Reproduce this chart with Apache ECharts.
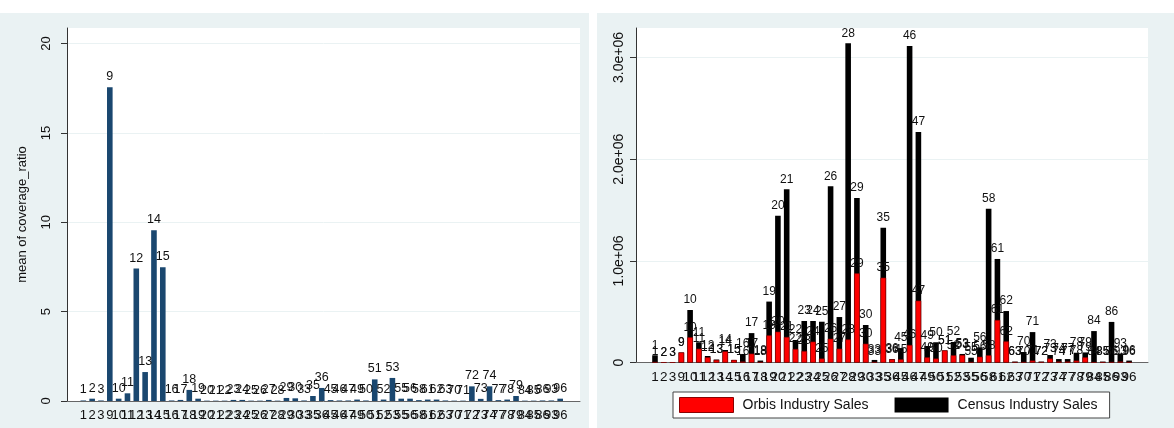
<!DOCTYPE html>
<html>
<head>
<meta charset="utf-8">
<script src="https://cdn.jsdelivr.net/npm/echarts@6/dist/echarts.min.js"></script>
<style>
  html, body { margin: 0; padding: 0; background: #ffffff; }
  #chart { width: 1174px; height: 428px; }
</style>
</head>
<body>
<div id="chart"></div>
<script>
// Industry codes shown on both panels
const industries = [1, 2, 3, 9, 10, 11, 12, 13, 14, 15, 16, 17, 18, 19, 20, 21, 22, 23, 24, 25,
  26, 27, 28, 29, 30, 33, 35, 36, 45, 46, 47, 49, 50, 51, 52, 53, 55, 56, 58, 61,
  62, 63, 70, 71, 72, 73, 74, 77, 78, 79, 84, 85, 86, 93, 96];

// Left panel: mean of coverage_ratio per industry
const coverageRatio = [0.03, 0.13, 0.03, 17.55, 0.13, 0.43, 7.41, 1.62, 9.56, 7.49,
  0.03, 0.06, 0.62, 0.13, 0.02, 0.02, 0.02, 0.06, 0.06, 0.02,
  0.02, 0.06, 0.02, 0.17, 0.15, 0.03, 0.28, 0.73, 0.05, 0.03,
  0.03, 0.08, 0.03, 1.21, 0.08, 1.29, 0.13, 0.13, 0.05, 0.08,
  0.08, 0.03, 0.02, 0.02, 0.82, 0.12, 0.82, 0.05, 0.08, 0.28,
  0.02, 0.02, 0.03, 0.03, 0.13];

// Right panel: industry sales totals
const orbisSales = [5000, 2000, 2000, 100000, 249000, 137000, 52000, 26000, 111000, 26000,
  10000, 88000, 5000, 268000, 304000, 252000, 134000, 114000, 206000, 40000,
  235000, 137000, 228000, 878000, 186000, 5000, 835000, 32000, 32000, 173000,
  609000, 52000, 40000, 120000, 72000, 75000, 5000, 58000, 72000, 419000,
  209000, 5000, 5000, 20000, 5000, 40000, 10000, 10000, 20000, 52000,
  3000, 3000, 5000, 10000, 5000];
const censusSales = [72000, 3000, 3000, 100000, 517000, 200000, 65000, 30000, 124000, 26000,
  85000, 290000, 20000, 600000, 1445000, 1704000, 222000, 409000, 409000, 402000,
  1733000, 448000, 3140000, 1618000, 370000, 26000, 1326000, 35000, 143000, 3113000,
  2267000, 163000, 200000, 120000, 203000, 85000, 48000, 150000, 1513000, 1019000,
  507000, 10000, 104000, 300000, 10000, 75000, 35000, 35000, 97000, 100000,
  310000, 10000, 400000, 90000, 20000];

// Axis tick values
const coverageTicks = [0, 5, 10, 15, 20];
const salesTicks = [0, 1000000, 2000000, 3000000];

const FONT = "'Liberation Sans', Arial, sans-serif";
const BG = '#EAF2F3';
const NAVY = '#1A476F';

const chart = echarts.init(document.getElementById('chart'), null, { renderer: 'canvas' });

const fmtSales = v => v === 0 ? '0' : (v / 1e6).toFixed(1) + 'e+06';

// Plot frame: white region with a baseline, no labels
const frameX = (gridIndex) => ({
  type: 'value', gridIndex, min: 0, max: 1,
  axisLine: { show: true, lineStyle: { color: '#666666', width: 1 } },
  axisTick: { show: false }, axisLabel: { show: false }, splitLine: { show: false }
});
// Category axis carrying the bars and the industry code labels
const barsX = (gridIndex, fontSize) => ({
  type: 'category', gridIndex, data: industries.map(String),
  axisLine: { show: false }, axisTick: { show: false }, splitLine: { show: false },
  axisLabel: { interval: 0, fontFamily: FONT, fontSize, color: '#111', margin: 8 }
});

const option = {
  animation: false,
  backgroundColor: '#ffffff',
  graphic: [
    { type: 'rect', z: -10, silent: true, shape: { x: 0, y: 13, width: 589, height: 415 }, style: { fill: BG } },
    { type: 'rect', z: -10, silent: true, shape: { x: 597, y: 13, width: 577, height: 415 }, style: { fill: BG } }
  ],
  grid: [
    { left: 67, top: 28, width: 513, height: 373, show: true, backgroundColor: '#ffffff', borderWidth: 0 },
    { left: 78.9, top: 28, width: 485.7, height: 373 },
    { left: 636, top: 28, width: 512, height: 334.6, show: true, backgroundColor: '#ffffff', borderWidth: 0 },
    { left: 650.6, top: 28, width: 482.9, height: 334.6 }
  ],
  legend: {
    data: [
      { name: 'Orbis Industry Sales', icon: 'rect', itemStyle: { color: '#FF0000', borderColor: '#8B0000', borderWidth: 1 } },
      { name: 'Census Industry Sales', icon: 'rect', itemStyle: { color: '#000000', borderWidth: 0 } }
    ],
    left: 673, top: 392,
    orient: 'horizontal',
    backgroundColor: '#ffffff', borderColor: '#444444', borderWidth: 1, borderRadius: 0,
    padding: [5, 12, 5, 6],
    itemWidth: 54, itemHeight: 15, itemGap: 26,
    textStyle: { fontFamily: FONT, fontSize: 14, color: '#111', padding: [0, 0, 0, 4] }
  },
  xAxis: [frameX(0), barsX(1, 13), frameX(2), barsX(3, 13.5)],
  yAxis: [
    {
      type: 'value', gridIndex: 0, min: 0, max: 20.87, interval: 5,
      name: 'mean of coverage_ratio', nameLocation: 'middle', nameGap: 38, nameRotate: 90,
      nameTextStyle: { fontFamily: FONT, fontSize: 13, color: '#111' },
      axisLine: { show: true, lineStyle: { color: '#333', width: 1 } },
      axisTick: { show: true, length: 6, customValues: coverageTicks, lineStyle: { color: '#333' } },
      axisLabel: { customValues: coverageTicks, rotate: 90, margin: 14, fontFamily: FONT, fontSize: 13, color: '#111' },
      splitLine: { show: true, lineStyle: { color: BG, width: 1 } }
    },
    { type: 'value', gridIndex: 1, min: 0, max: 20.87, show: false, splitLine: { show: false } },
    {
      type: 'value', gridIndex: 2, min: 0, max: 3290000, interval: 1000000,
      axisLine: { show: true, lineStyle: { color: '#333', width: 1 } },
      axisTick: { show: true, length: 6, customValues: salesTicks, lineStyle: { color: '#333' } },
      axisLabel: { customValues: salesTicks, rotate: 90, margin: 10, fontFamily: FONT, fontSize: 14, color: '#111', formatter: fmtSales },
      splitLine: { show: true, lineStyle: { color: BG, width: 1 } }
    },
    { type: 'value', gridIndex: 3, min: 0, max: 3290000, show: false, splitLine: { show: false } }
  ],
  series: [
    {
      name: 'coverage_ratio', type: 'bar', xAxisIndex: 1, yAxisIndex: 1,
      data: coverageRatio, barWidth: 5.6,
      itemStyle: { color: NAVY },
      label: { show: true, position: 'top', distance: 4, formatter: p => p.name, fontFamily: FONT, fontSize: 12.5, color: '#111' }
    },
    {
      name: 'Census Industry Sales', type: 'bar', xAxisIndex: 3, yAxisIndex: 3,
      data: censusSales, barWidth: 5.6, barGap: '-100%',
      itemStyle: { color: '#000000' },
      label: { show: true, position: 'top', distance: 4, formatter: p => p.name, fontFamily: FONT, fontSize: 12, color: '#111' }
    },
    {
      name: 'Orbis Industry Sales', type: 'bar', xAxisIndex: 3, yAxisIndex: 3,
      data: orbisSales, barWidth: 5.6, barGap: '-100%',
      itemStyle: { color: '#FF0000', borderColor: '#8B0000', borderWidth: 0.6 },
      label: { show: true, position: 'top', distance: 4, formatter: p => p.name, fontFamily: FONT, fontSize: 12, color: '#111' }
    }
  ]
};

chart.setOption(option);
</script>
</body>
</html>
